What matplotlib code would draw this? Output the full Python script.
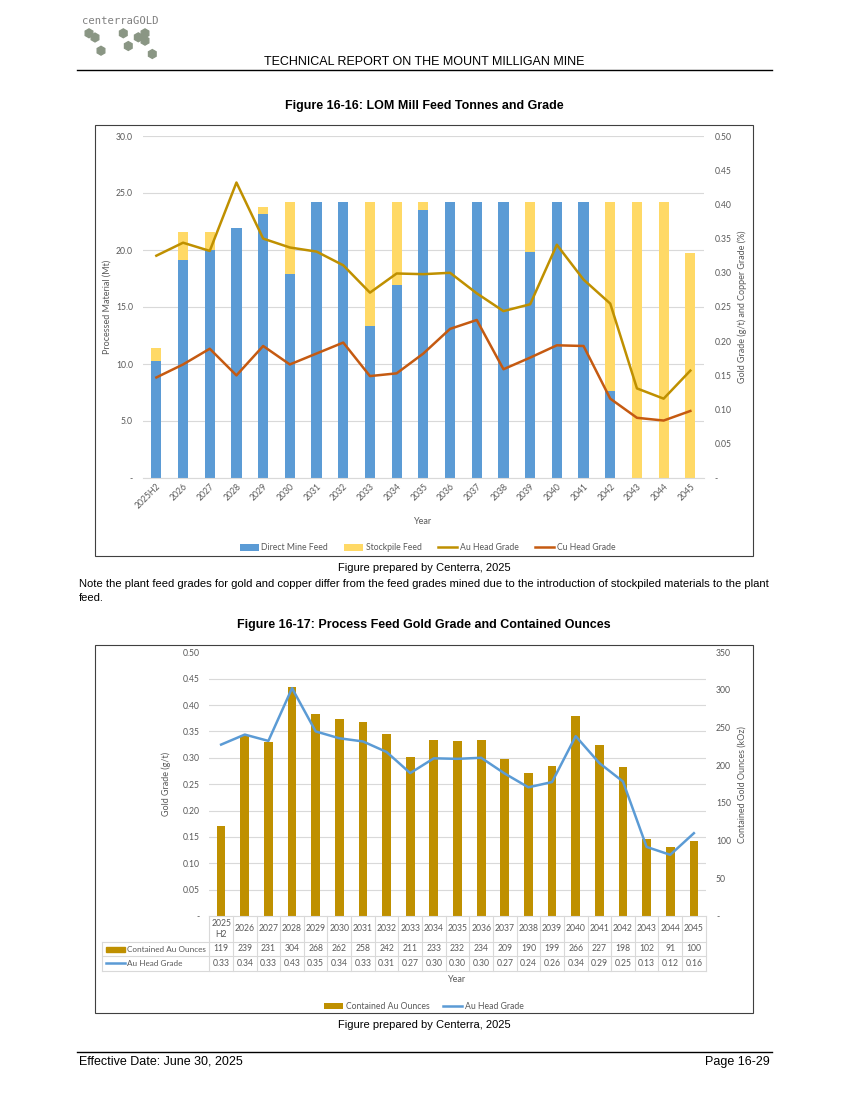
import numpy as np
import matplotlib.pyplot as plt
from matplotlib.patches import Rectangle, RegularPolygon
from matplotlib.lines import Line2D

# ---- data -------------------------------------------------------------
years = ["2025H2", "2026", "2027", "2028", "2029", "2030", "2031", "2032",
         "2033", "2034", "2035", "2036", "2037", "2038", "2039", "2040",
         "2041", "2042", "2043", "2044", "2045"]
table_years = ["2025\nH2"] + years[1:]

direct_feed = [10.3, 19.1, 20.0, 21.9, 23.2, 17.9, 24.2, 24.2, 13.3, 16.9, 23.5,
               24.2, 24.2, 24.2, 19.8, 24.2, 24.2, 7.6, 0.0, 0.0, 0.0]
stockpile_feed = [1.1, 2.5, 1.6, 0.0, 0.6, 6.3, 0.0, 0.0, 10.9, 7.3, 0.7,
                  0.0, 0.0, 0.0, 4.4, 0.0, 0.0, 16.6, 24.2, 24.2, 19.7]
au_grade = [0.325, 0.344, 0.332, 0.432, 0.350, 0.337, 0.331, 0.311, 0.271, 0.299, 0.298,
            0.300, 0.270, 0.244, 0.254, 0.341, 0.290, 0.255, 0.131, 0.116, 0.157]
cu_grade = [0.147, 0.166, 0.189, 0.150, 0.193, 0.166, 0.182, 0.198, 0.149, 0.153, 0.182,
            0.218, 0.231, 0.159, 0.176, 0.194, 0.193, 0.116, 0.088, 0.084, 0.098]
contained_oz = [119, 239, 231, 304, 268, 262, 258, 242, 211, 233, 232,
                234, 209, 190, 199, 266, 227, 198, 102, 91, 100]
au_grade_table = ["0.33", "0.34", "0.33", "0.43", "0.35", "0.34", "0.33", "0.31", "0.27", "0.30", "0.30",
                  "0.30", "0.27", "0.24", "0.26", "0.34", "0.29", "0.25", "0.13", "0.12", "0.16"]

BLUE = "#5B9BD5"
YELLOW = "#FFD966"
GOLD = "#BF9000"
COPPER = "#C55A11"
GRID = "#D9D9D9"
TXT = "#595959"
CF = "Lato"          # chart font (Calibri look-alike)
PF = "Liberation Sans"  # page font (Arial)

W, H = 849, 1100
fig = plt.figure(figsize=(W / 100, H / 100), dpi=100)

# page layer in pixel coordinates
page = fig.add_axes([0, 0, 1, 1])
page.set_xlim(0, W)
page.set_ylim(H, 0)
page.axis("off")


def fbox(x0, y0, x1, y1):
    return [x0 / W, 1 - y1 / H, (x1 - x0) / W, (y1 - y0) / H]


# header / logo
page.text(82, 21, "centerraGOLD", fontsize=7.6, family="DejaVu Sans Mono",
          color="#808080", va="center")
for hx, hy in [(89, 33.3), (95, 37.5), (123.3, 33.3), (138.3, 37.3), (145, 33.3),
               (145, 40.7), (101, 50.7), (128.3, 46), (152.3, 54)]:
    page.add_patch(RegularPolygon((hx, hy), 6, radius=4.4, color="#8A9684"))
page.text(424, 62, "TECHNICAL REPORT ON THE MOUNT MILLIGAN MINE", fontsize=9,
          family=PF, ha="center", va="center")
page.plot([77, 772], [70, 70], color="black", lw=1)

page.text(424, 106, "Figure 16-16: LOM Mill Feed Tonnes and Grade", fontsize=9,
          family=PF, weight="bold", ha="center", va="center")
page.add_patch(Rectangle((95, 125), 658, 431, fill=False, ec="#404040", lw=0.8))
page.text(424, 568, "Figure prepared by Centerra, 2025", fontsize=8, family=PF,
          ha="center", va="center")
page.text(79, 584, "Note the plant feed grades for gold and copper differ from the feed grades "
          "mined due to the introduction of stockpiled materials to the plant",
          fontsize=8.1, family=PF, va="center")
page.text(79, 598, "feed.", fontsize=8.1, family=PF, va="center")

page.text(424, 625, "Figure 16-17: Process Feed Gold Grade and Contained Ounces", fontsize=9,
          family=PF, weight="bold", ha="center", va="center")
page.add_patch(Rectangle((95, 645), 658, 368, fill=False, ec="#404040", lw=0.8))
page.text(424, 1025, "Figure prepared by Centerra, 2025", fontsize=8, family=PF,
          ha="center", va="center")

page.plot([77, 772], [1052, 1052], color="black", lw=1)
page.text(79, 1062, "Effective Date: June 30, 2025", fontsize=9, family=PF, va="center")
page.text(770, 1062, "Page 16-29", fontsize=9, family=PF, va="center", ha="right")

x = np.arange(len(years))

# ---- Figure 16-16 ------------------------------------------------------
ax1 = fig.add_axes(fbox(143, 136, 703.7, 478))
ax1.patch.set_visible(False)
ax1.bar(x, direct_feed, width=0.38, color=BLUE, label="Direct Mine Feed", zorder=2)
ax1.bar(x, stockpile_feed, width=0.38, bottom=direct_feed, color=YELLOW,
        label="Stockpile Feed", zorder=2)
ax1.set_xlim(-0.5, len(years) - 0.5)
ax1.set_ylim(0, 30)
ax1.set_yticks(np.arange(0, 30.1, 5))
ax1.set_yticklabels(["-"] + [f"{v:.1f}" for v in np.arange(5, 30.1, 5)])
ax1.yaxis.grid(True, color=GRID, lw=0.8, zorder=0)
ax1.set_axisbelow(True)
ax1.set_xticks(x)
ax1.set_xticklabels(years, rotation=45, ha="right", rotation_mode="anchor")
ax1.tick_params(axis="y", length=0, pad=7.2, labelsize=6.2, labelcolor=TXT)
ax1.tick_params(axis="x", length=0, pad=3, labelsize=6.2, labelcolor=TXT)
for t in ax1.get_xticklabels() + ax1.get_yticklabels():
    t.set_family(CF)
for s in ["top", "left", "right"]:
    ax1.spines[s].set_visible(False)
ax1.spines["bottom"].set_color(GRID)
ax1.set_ylabel("Processed Material (Mt)", fontsize=6.5, family=CF, color=TXT, va="center")
ax1.yaxis.set_label_coords((107 - 143) / 560.7, 0.5)
ax1.set_xlabel("Year", fontsize=6.5, family=CF, color=TXT, va="center")
ax1.xaxis.set_label_coords(0.5, (478 - 521) / 342)

ax1r = ax1.twinx()
ax1r.plot(x, au_grade, color=GOLD, lw=1.8, label="Au Head Grade")
ax1r.plot(x, cu_grade, color=COPPER, lw=1.8, label="Cu Head Grade")
ax1r.set_ylim(0, 0.5)
ax1r.set_yticks(np.arange(0, 0.501, 0.05))
ax1r.set_yticklabels(["-"] + [f"{v:.2f}" for v in np.arange(0.05, 0.501, 0.05)])
ax1r.tick_params(axis="y", length=0, pad=7.6, labelsize=6.2, labelcolor=TXT)
for t in ax1r.get_yticklabels():
    t.set_family(CF)
for s in ax1r.spines.values():
    s.set_visible(False)
ax1r.set_ylabel("Gold Grade (g/t) and Copper Grade (%)", fontsize=6.5, family=CF,
                color=TXT, va="center")
ax1r.yaxis.set_label_coords((742.7 - 143) / 560.7, 0.5)

h1, l1 = ax1.get_legend_handles_labels()
h2, l2 = ax1r.get_legend_handles_labels()
fig.legend(h1 + h2, l1 + l2, loc="center", bbox_to_anchor=(427.5 / W, 1 - 548 / H),
           ncol=4, frameon=False, handlelength=2.2, handletextpad=0.3, columnspacing=1.9,
           prop={"family": CF, "size": 6.2}, labelcolor=TXT)

# ---- Figure 16-17 ------------------------------------------------------
ax2 = fig.add_axes(fbox(209.3, 652.3, 705.7, 916))
ax2.patch.set_visible(False)
ax2.bar(x, contained_oz, width=0.37, color=GOLD, label="Contained Au Ounces", zorder=2)
ax2.set_xlim(-0.5, len(years) - 0.5)
ax2.set_ylim(0, 350)

ax2g = ax2.twinx()
ax2g.plot(x, au_grade, color=BLUE, lw=1.8, label="Au Head Grade")

# swap sides: ounces on the right, grade on the left
ax2.yaxis.tick_right()
ax2.yaxis.set_label_position("right")
ax2g.yaxis.tick_left()
ax2g.yaxis.set_label_position("left")

ax2.set_yticks(np.arange(0, 351, 50))
ax2.set_yticklabels(["-"] + [str(v) for v in range(50, 351, 50)])
# gridlines follow the left (grade) axis: every 0.05 g/t = 35 koz
ax2.set_yticks(np.arange(0, 351, 35), minor=True)
ax2.yaxis.grid(True, which="minor", color=GRID, lw=0.8)
ax2.yaxis.grid(False, which="major")
ax2.tick_params(axis="y", which="both", length=0, pad=7.4, labelsize=6.2, labelcolor=TXT,
                left=False, labelleft=False, right=True, labelright=True)
ax2.set_xticks([])
ax2.set_axisbelow(True)
for t in ax2.get_yticklabels():
    t.set_family(CF)
for s in ["top", "left", "right"]:
    ax2.spines[s].set_visible(False)
ax2.spines["bottom"].set_color(GRID)
ax2.set_ylabel("Contained Gold Ounces (kOz)", fontsize=6.5, family=CF, color=TXT, va="center")
ax2.yaxis.set_label_coords((741.7 - 209.3) / 496.4, 0.5)
ax2.set_xlabel("Year", fontsize=6.5, family=CF, color=TXT, va="center")
ax2.xaxis.set_label_coords(0.5, (916 - 979) / 263.7)

ax2g.set_ylim(0, 0.5)
ax2g.set_yticks(np.arange(0, 0.501, 0.05))
ax2g.set_yticklabels(["-"] + [f"{v:.2f}" for v in np.arange(0.05, 0.501, 0.05)])
ax2g.tick_params(axis="y", length=0, pad=7.2, labelsize=6.2, labelcolor=TXT,
                 right=False, labelright=False, left=True, labelleft=True)
for t in ax2g.get_yticklabels():
    t.set_family(CF)
for s in ax2g.spines.values():
    s.set_visible(False)
ax2g.set_ylabel("Gold Grade (g/t)", fontsize=6.5, family=CF, color=TXT, va="center")
ax2g.yaxis.set_label_coords((166 - 209.3) / 496.4, 0.5)

# data table under the chart
tr = ax2.get_xaxis_transform()
px = 496.4 / len(years)
lab_left = (102.3 - 209.3) / px - 0.5
r0, r1, r2, r3 = 0.0, -(941.7 - 916) / 263.7, -(956 - 916) / 263.7, -(970.7 - 916) / 263.7
for xe in np.arange(-0.5, len(years), 1.0):
    ax2.add_line(Line2D([xe, xe], [r0, r3], transform=tr, color=GRID, lw=0.8, clip_on=False))
for yy in (r1, r2, r3):
    ax2.add_line(Line2D([lab_left, len(years) - 0.5], [yy, yy], transform=tr, color=GRID,
                        lw=0.8, clip_on=False))
ax2.add_line(Line2D([lab_left, lab_left], [r1, r3], transform=tr, color=GRID, lw=0.8,
                    clip_on=False))
for i in range(len(years)):
    ax2.text(i, (r0 + r1) / 2, table_years[i], transform=tr, ha="center", va="center",
             fontsize=6.2, family=CF, color=TXT, linespacing=1.3)
    ax2.text(i, (r1 + r2) / 2, str(contained_oz[i]), transform=tr, ha="center", va="center",
             fontsize=6.2, family=CF, color=TXT)
    ax2.text(i, (r2 + r3) / 2, au_grade_table[i], transform=tr, ha="center", va="center",
             fontsize=6.2, family=CF, color=TXT)
page.add_patch(Rectangle((106, 946.5), 19, 5, color=GOLD))
page.text(127, 949, "Contained Au Ounces", fontsize=5.9, family=CF, color=TXT, va="center")
page.plot([106, 125], [963.3, 963.3], color=BLUE, lw=1.8)
page.text(127, 963.3, "Au Head Grade", fontsize=5.9, family=CF, color=TXT, va="center")

h1, l1 = ax2.get_legend_handles_labels()
h2, l2 = ax2g.get_legend_handles_labels()
fig.legend(h1 + h2, l1 + l2, loc="center", bbox_to_anchor=(424 / W, 1 - 1006.7 / H),
           ncol=2, frameon=False, handlelength=2.2, handletextpad=0.3, columnspacing=1.6,
           prop={"family": CF, "size": 6.2}, labelcolor=TXT)

fig.savefig("out.png", dpi=100)
